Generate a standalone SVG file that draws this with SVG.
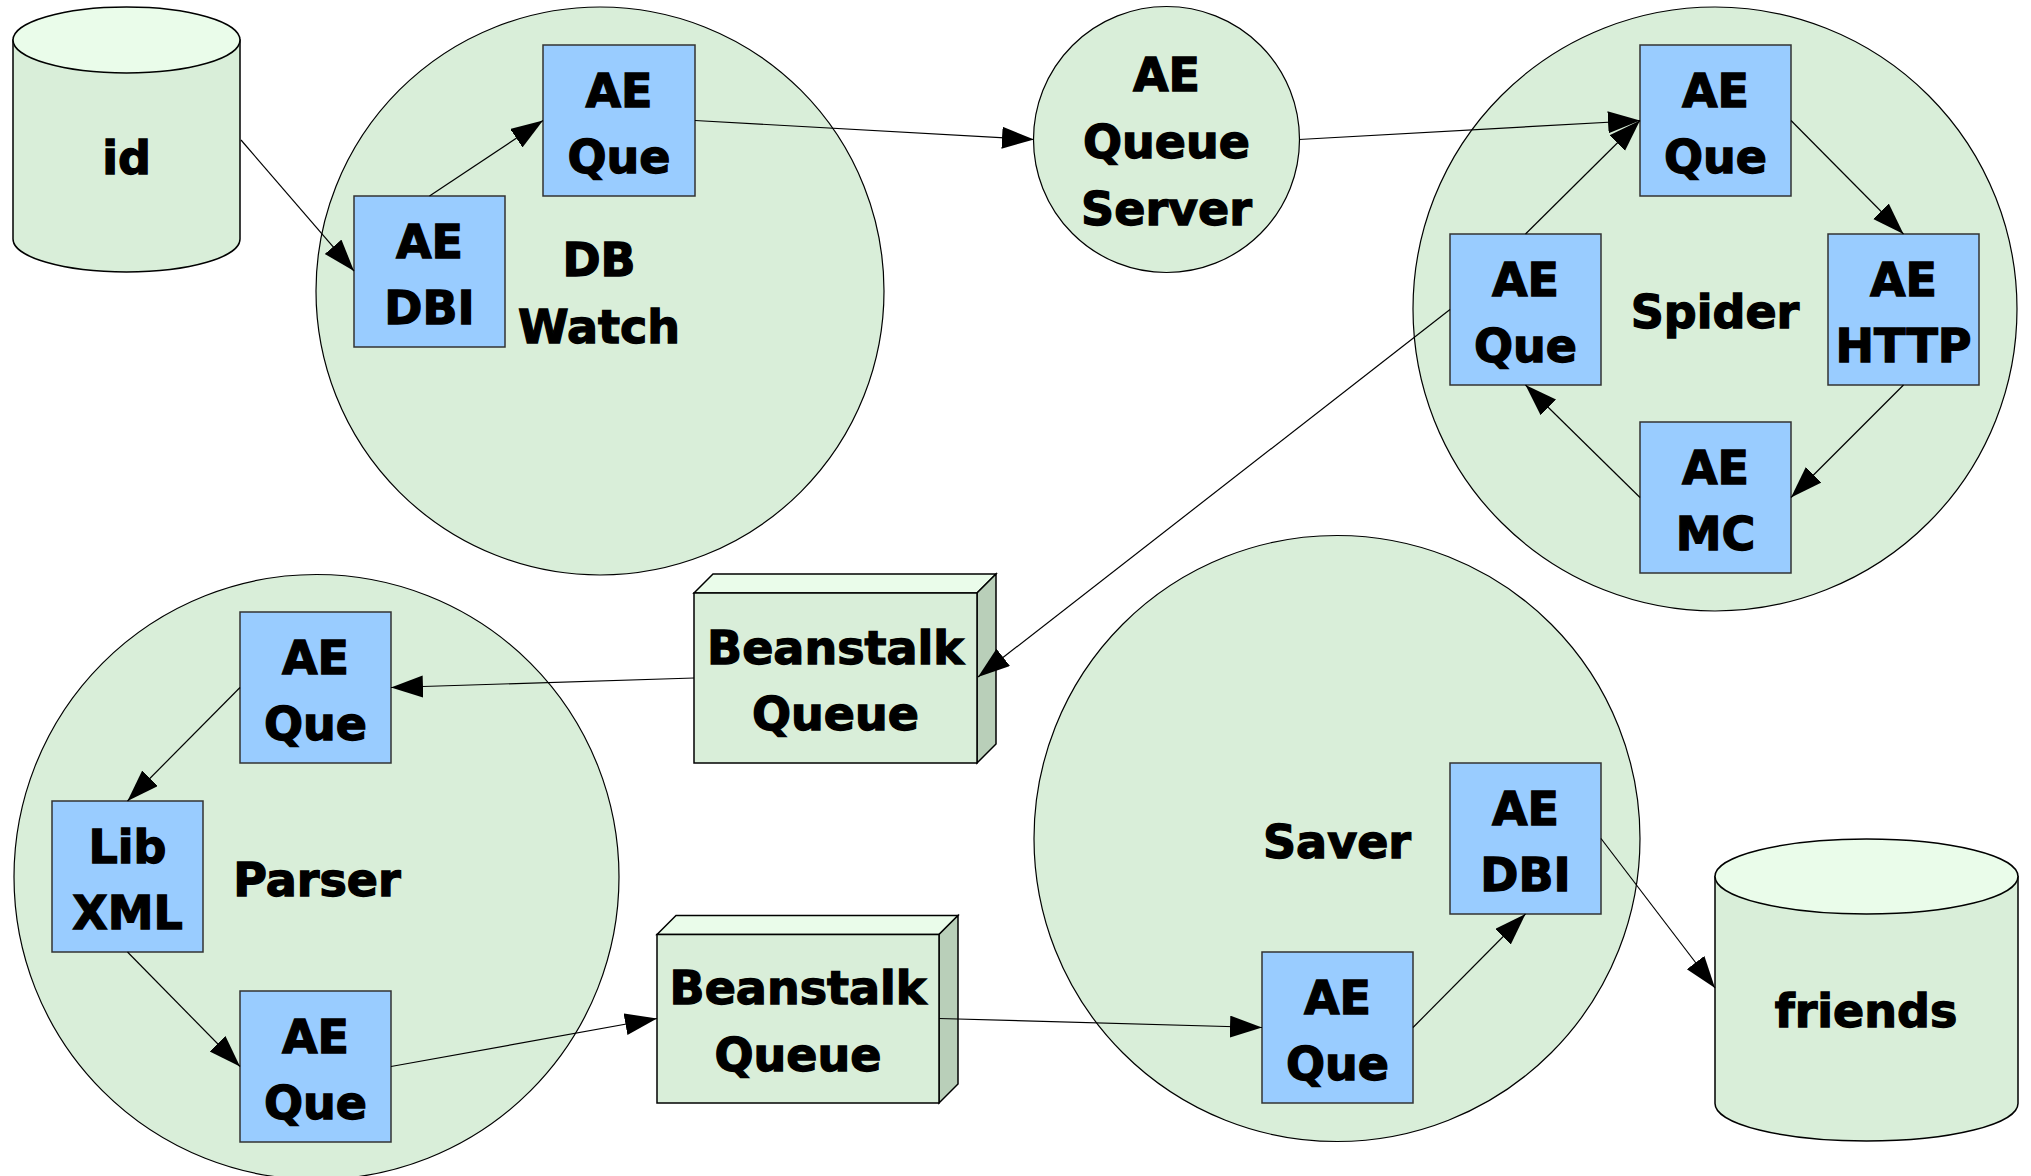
<svg xmlns="http://www.w3.org/2000/svg" width="2031" height="1176" viewBox="0 0 2031 1176">
<defs>
<style>
.bg{fill:#ffffff}
.circ{fill:#d9eed9;stroke:#000;stroke-width:1.2}
.box{fill:#99ccff;stroke:#333;stroke-width:1.5}
.cylb{fill:#d9eed9;stroke:#000;stroke-width:1.5}
.cylt{fill:#eafcea;stroke:#000;stroke-width:1.5}
.front{fill:#d9eed9;stroke:#000;stroke-width:1.5}
.top{fill:#eafcea;stroke:#000;stroke-width:1.5}
.side{fill:#b9cfb9;stroke:#000;stroke-width:1.5}
text{font-family:"DejaVu Sans","Liberation Sans",sans-serif;font-weight:bold;font-size:46px;fill:#000;stroke:#000;stroke-width:1.3;text-anchor:middle}
.conn line{stroke:#000;stroke-width:1.2;marker-end:url(#arr)}
</style>
<marker id="arr" markerUnits="userSpaceOnUse" markerWidth="34" markerHeight="24" refX="32" refY="11" orient="auto" viewBox="0 0 34 24">
<path d="M0,0 L32,11 L0,22 z" fill="#000"/>
</marker>
</defs>
<rect class="bg" x="0" y="0" width="2031" height="1176"/>

<g id="dbwatch">
<circle class="circ" cx="600" cy="291" r="284"/>
<text x="599" y="276">DB</text>
<text x="599" y="343">Watch</text>
</g>
<g id="queueserver">
<circle class="circ" cx="1166.5" cy="139.5" r="133"/>
<text x="1166.5" y="91">AE</text>
<text x="1166.5" y="158">Queue</text>
<text x="1166.5" y="225">Server</text>
</g>
<g id="spider">
<circle class="circ" cx="1715" cy="309" r="302"/>
<text x="1715" y="328">Spider</text>
</g>
<g id="parser">
<circle class="circ" cx="316.5" cy="877" r="302.5"/>
<text x="317" y="896">Parser</text>
</g>
<g id="saver">
<circle class="circ" cx="1337" cy="838.5" r="303"/>
<text x="1337" y="858">Saver</text>
</g>

<g id="id-db">
<path class="cylb" d="M13,40 L13,239 A113.5,33 0 0 0 240,239 L240,40 Z"/>
<ellipse class="cylt" cx="126.5" cy="40" rx="113.5" ry="33"/>
<text x="126.5" y="174">id</text>
</g>
<g id="friends-db">
<path class="cylb" d="M1715,876.5 L1715,1103.5 A151.5,37.5 0 0 0 2018,1103.5 L2018,876.5 Z"/>
<ellipse class="cylt" cx="1866.5" cy="876.5" rx="151.5" ry="37.5"/>
<text x="1866" y="1027">friends</text>
</g>

<g id="beanstalk1">
<polygon class="top" points="694,593 713,574 996,574 977,593"/>
<polygon class="side" points="977,593 996,574 996,744 977,763"/>
<rect class="front" x="694" y="593" width="283" height="170"/>
<text x="835.5" y="664">Beanstalk</text>
<text x="835.5" y="730">Queue</text>
</g>
<g id="beanstalk2">
<polygon class="top" points="657,934.5 676,915.5 958,915.5 939,934.5"/>
<polygon class="side" points="939,934.5 958,915.5 958,1084 939,1103"/>
<rect class="front" x="657" y="934.5" width="282" height="168.5"/>
<text x="798" y="1004">Beanstalk</text>
<text x="798" y="1071">Queue</text>
</g>

<g id="dbw-dbi">
<rect class="box" x="354" y="196" width="151" height="151"/>
<text x="429.5" y="257.5">AE</text>
<text x="429.5" y="324">DBI</text>
</g>
<g id="dbw-que">
<rect class="box" x="543" y="45" width="152" height="151"/>
<text x="619" y="106.5">AE</text>
<text x="619" y="173">Que</text>
</g>
<g id="sp-que-top">
<rect class="box" x="1640" y="45" width="151" height="151"/>
<text x="1715.5" y="106.5">AE</text>
<text x="1715.5" y="173">Que</text>
</g>
<g id="sp-que-left">
<rect class="box" x="1450" y="234" width="151" height="151"/>
<text x="1525.5" y="295.5">AE</text>
<text x="1525.5" y="362">Que</text>
</g>
<g id="sp-http">
<rect class="box" x="1828" y="234" width="151" height="151"/>
<text x="1903.5" y="295.5">AE</text>
<text x="1903.5" y="362">HTTP</text>
</g>
<g id="sp-mc">
<rect class="box" x="1640" y="422" width="151" height="151"/>
<text x="1715.5" y="483.5">AE</text>
<text x="1715.5" y="550">MC</text>
</g>
<g id="pa-que-top">
<rect class="box" x="240" y="612" width="151" height="151"/>
<text x="315.5" y="673.5">AE</text>
<text x="315.5" y="740">Que</text>
</g>
<g id="pa-libxml">
<rect class="box" x="52" y="801" width="151" height="151"/>
<text x="127.5" y="862.5">Lib</text>
<text x="127.5" y="929">XML</text>
</g>
<g id="pa-que-bot">
<rect class="box" x="240" y="991" width="151" height="151"/>
<text x="315.5" y="1052.5">AE</text>
<text x="315.5" y="1119">Que</text>
</g>
<g id="sv-dbi">
<rect class="box" x="1450" y="763" width="151" height="151"/>
<text x="1525.5" y="824.5">AE</text>
<text x="1525.5" y="891">DBI</text>
</g>
<g id="sv-que">
<rect class="box" x="1262" y="952" width="151" height="151"/>
<text x="1337.5" y="1013.5">AE</text>
<text x="1337.5" y="1080">Que</text>
</g>

<g id="connectors" class="conn">
<line x1="241" y1="140" x2="354" y2="271"/>
<line x1="429.5" y1="196" x2="543" y2="120.5"/>
<line x1="695" y1="120.5" x2="1034" y2="139.5"/>
<line x1="1299" y1="139.5" x2="1640" y2="120.5"/>
<line x1="1525.5" y1="234" x2="1640" y2="120.5"/>
<line x1="1791" y1="120.5" x2="1903.5" y2="234"/>
<line x1="1903.5" y1="385" x2="1791" y2="497.5"/>
<line x1="1640" y1="497.5" x2="1525.5" y2="385"/>
<line x1="1450" y1="309.5" x2="978" y2="677"/>
<line x1="694" y1="678" x2="391" y2="687.5"/>
<line x1="240" y1="687.5" x2="127.5" y2="801"/>
<line x1="127.5" y1="952" x2="240" y2="1066.5"/>
<line x1="391" y1="1066.5" x2="657" y2="1018.5"/>
<line x1="939" y1="1018.5" x2="1262" y2="1027.5"/>
<line x1="1413" y1="1027.5" x2="1525.5" y2="914"/>
<line x1="1601" y1="838.5" x2="1715" y2="988"/>
</g>
</svg>
